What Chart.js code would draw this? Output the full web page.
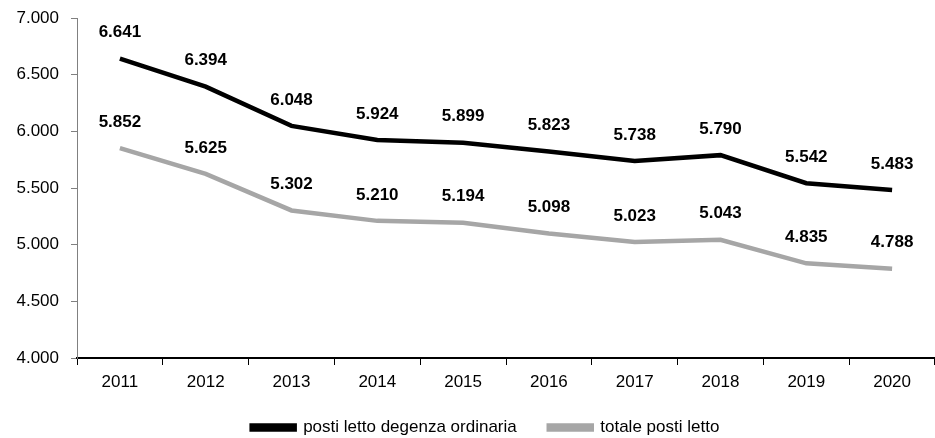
<!DOCTYPE html>
<html>
<head>
<meta charset="utf-8">
<script src="https://cdn.jsdelivr.net/npm/chart.js@4"></script>
<style>
  body { margin: 0; background: #fff; }
  #wrap { width: 935px; height: 438px; }
</style>
</head>
<body>
<div id="wrap"><canvas id="lineChart" width="935" height="438"></canvas></div>
<script>
const years = ['2011', '2012', '2013', '2014', '2015', '2016', '2017', '2018', '2019', '2020'];
const ordinaria = [6641, 6394, 6048, 5924, 5899, 5823, 5738, 5790, 5542, 5483];
const totale = [5852, 5625, 5302, 5210, 5194, 5098, 5023, 5043, 4835, 4788];
const seriesNames = ['posti letto degenza ordinaria', 'totale posti letto'];

const blackColor = '#000000';
const greyColor = '#a6a6a6';
const fontFamily = '"Liberation Sans", Arial, sans-serif';

function fmt(v) {
    return String(v).replace(/\B(?=(\d{3})+(?!\d))/g, '.');
}

// draws the bold value above each point
const valueLabels = {
    id: 'valueLabels',
    afterDatasetsDraw(chart) {
        const ctx = chart.ctx;
        ctx.save();
        ctx.font = 'bold 17px ' + fontFamily;
        ctx.fillStyle = '#000';
        ctx.textAlign = 'center';
        ctx.textBaseline = 'middle';
        chart.data.datasets.forEach(function (ds, i) {
            chart.getDatasetMeta(i).data.forEach(function (pt, j) {
                ctx.fillText(fmt(ds.data[j]), pt.x, pt.y - 26);
            });
        });
        ctx.restore();
    }
};

// x axis is kept short for layout, then given room so its labels are not clipped;
// legend nudged right like in the original
const layoutTweaks = {
    id: 'layoutTweaks',
    afterLayout(chart) {
        const x = chart.scales.x;
        x.bottom = x.top + 40;
        x.height = 40;
        chart.legend.left += 18;
        chart.legend.right += 18;
    }
};

const lineChart = document.getElementById('lineChart');
new Chart(lineChart, {
    type: 'line',
    data: {
        labels: years,
        datasets: [
            {
                label: seriesNames[0],
                data: ordinaria,
                borderColor: blackColor,
                backgroundColor: blackColor,
                borderWidth: 4.5,
                pointRadius: 0,
                tension: 0
            },
            {
                label: seriesNames[1],
                data: totale,
                borderColor: greyColor,
                backgroundColor: greyColor,
                borderWidth: 4.5,
                pointRadius: 0,
                tension: 0
            }
        ]
    },
    options: {
        responsive: false,
        animation: false,
        layout: {
            padding: { top: 18, right: 0, left: 0, bottom: -8 }
        },
        plugins: {
            tooltip: { enabled: false },
            legend: {
                position: 'bottom',
                labels: {
                    color: '#000',
                    boxWidth: 43,
                    boxHeight: 4,
                    padding: 32,
                    font: { family: fontFamily, size: 17 }
                }
            }
        },
        scales: {
            x: {
                offset: true,
                afterFit: function (scale) { scale.height = 29; },
                grid: {
                    offset: true,
                    drawOnChartArea: false,
                    color: '#000',
                    tickLength: 7
                },
                border: { color: '#000', width: 2 },
                ticks: {
                    color: '#000',
                    padding: 7,
                    maxRotation: 0,
                    font: { family: fontFamily, size: 17 }
                }
            },
            y: {
                min: 4000,
                max: 7000,
                afterFit: function (scale) {
                    scale.width = 77;
                    scale.paddingTop = 0;
                    scale.paddingBottom = 0;
                },
                grid: {
                    drawOnChartArea: false,
                    color: '#808080',
                    tickLength: 6
                },
                border: { color: '#808080', width: 1 },
                ticks: {
                    stepSize: 500,
                    color: '#000',
                    padding: 12,
                    font: { family: fontFamily, size: 17 },
                    callback: function (v) { return fmt(v); }
                }
            }
        }
    },
    plugins: [valueLabels, layoutTweaks]
});
</script>
</body>
</html>
